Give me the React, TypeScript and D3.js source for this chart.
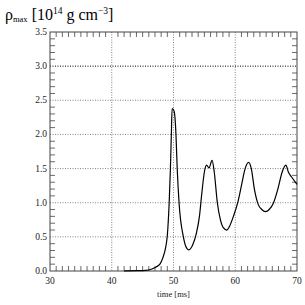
import { useEffect, useRef } from 'react'
import * as d3 from 'd3'

const W = 305, H = 305, M = { top: 32, right: 8, bottom: 34, left: 50 }

// time [ms] and rho_max [1e14 g/cm^3]
const timeMs = [
  42, 44, 45.5, 46.5, 47.2, 47.8, 48.3, 48.7, 49.0, 49.3, 49.5, 49.65, 49.78, 50.1,
  50.4, 50.6, 50.9, 51.6, 52.0, 52.5, 53.1, 53.7, 54.2, 54.6, 55.0, 55.35, 55.75, 56.25,
  56.6, 57.1, 57.6, 58.1, 58.6, 59.1, 59.7, 60.4, 61.0, 61.6, 62.15, 62.6, 63.1, 63.7,
  64.3, 64.9, 65.5, 66.2, 66.9, 67.6, 68.2, 68.6, 69.1, 70,
]
const rhoMax = [
  0.002, 0.005, 0.01, 0.03, 0.06, 0.1, 0.2, 0.33, 0.52, 1.0, 1.5, 2.0, 2.38, 2.34,
  2.0, 1.5, 1.0, 0.5, 0.36, 0.31, 0.38, 0.55, 0.8, 1.15, 1.45, 1.55, 1.51, 1.62,
  1.45, 1.0, 0.75, 0.63, 0.6, 0.66, 0.8, 1.0, 1.25, 1.5, 1.59, 1.5, 1.2, 0.98,
  0.9, 0.87, 0.9, 1.0, 1.2, 1.45, 1.55, 1.45, 1.38, 1.27,
]
const xTicks = [30, 40, 50, 60, 70]
const yTicks = [0, 0.5, 1, 1.5, 2, 2.5, 3, 3.5]

export default function App() {
  const svgRef = useRef<SVGSVGElement>(null)

  useEffect(() => {
    const svg = d3.select(svgRef.current!)
    svg.selectAll('*').remove()

    const iw = W - M.left - M.right
    const ih = H - M.top - M.bottom
    const x = d3.scaleLinear().domain([30, 70]).range([0, iw])
    const y = d3.scaleLinear().domain([0, 3.5]).range([ih, 0])
    const axisCol = '#444'
    const font = 'Liberation Serif, serif'

    const g = svg.append('g').attr('transform', `translate(${M.left},${M.top})`)

    // dotted grid at major ticks
    xTicks.slice(1, -1).forEach(t => {
      g.append('line').attr('x1', x(t)).attr('x2', x(t)).attr('y1', 0).attr('y2', ih)
        .attr('stroke', '#666').attr('stroke-width', 0.8).attr('stroke-dasharray', '1 1.5')
    })
    yTicks.slice(1, -1).forEach(v => {
      g.append('line').attr('x1', 0).attr('x2', iw).attr('y1', y(v)).attr('y2', y(v))
        .attr('stroke', v === 3 ? '#000' : '#666').attr('stroke-width', v === 3 ? 1 : 0.8)
        .attr('stroke-dasharray', '1 1.5')
    })

    // minor ticks on all four sides, pointing inward
    const tl = 5
    d3.range(31, 70).filter(t => t % 10 !== 0).forEach(t => {
      g.append('line').attr('x1', x(t)).attr('x2', x(t)).attr('y1', ih).attr('y2', ih - tl)
        .attr('stroke', axisCol).attr('stroke-width', 0.8)
      g.append('line').attr('x1', x(t)).attr('x2', x(t)).attr('y1', 0).attr('y2', tl)
        .attr('stroke', axisCol).attr('stroke-width', 0.8)
    })
    d3.range(1, 35).filter(i => i % 5 !== 0).forEach(i => {
      const v = i / 10
      g.append('line').attr('x1', 0).attr('x2', tl).attr('y1', y(v)).attr('y2', y(v))
        .attr('stroke', axisCol).attr('stroke-width', 0.8)
      g.append('line').attr('x1', iw).attr('x2', iw - tl).attr('y1', y(v)).attr('y2', y(v))
        .attr('stroke', axisCol).attr('stroke-width', 0.8)
    })

    // frame
    g.append('rect').attr('x', 0).attr('y', 0).attr('width', iw).attr('height', ih)
      .attr('fill', 'none').attr('stroke', axisCol).attr('stroke-width', 1)

    // tick labels
    xTicks.forEach(t => {
      g.append('text').attr('x', x(t)).attr('y', ih + 13).attr('text-anchor', 'middle')
        .attr('font-size', 9.5).attr('font-family', font).attr('fill', '#222').text(t)
    })
    yTicks.forEach(v => {
      g.append('text').attr('x', -3).attr('y', y(v) + 3).attr('text-anchor', 'end')
        .attr('font-size', 9.5).attr('font-family', font).attr('fill', '#222').text(v.toFixed(1))
    })
    g.append('text').attr('x', iw / 2).attr('y', ih + 26).attr('text-anchor', 'middle')
      .attr('font-size', 8.5).attr('font-family', font).attr('fill', '#222').text('time [ms]')

    // curve
    const line = d3.line<number>()
      .x((_, i) => x(timeMs[i])).y(v => y(v)).curve(d3.curveMonotoneX)
    g.append('path').datum(rhoMax)
      .attr('fill', 'none').attr('stroke', '#000').attr('stroke-width', 1.2)
      .attr('d', line)

    // title
    const title = svg.append('text').attr('x', 5).attr('y', 20)
      .attr('font-family', font).attr('font-size', 16).attr('fill', '#000')
    title.append('tspan').text('ρ')
    title.append('tspan').attr('font-size', 8.5).attr('dy', 2).text('max')
    title.append('tspan').attr('dy', -2).text(' [10')
    title.append('tspan').attr('font-size', 9.5).attr('dy', -6).text('14')
    title.append('tspan').attr('dy', 6).text(' g cm')
    title.append('tspan').attr('font-size', 9.5).attr('dy', -6).text('−3')
    title.append('tspan').attr('dy', 6).text(']')
  }, [])

  return (
    <svg ref={svgRef} width={W} height={H}
      style={{ position: 'fixed', left: 0, top: 0, background: '#fff', display: 'block' }} />
  )
}
